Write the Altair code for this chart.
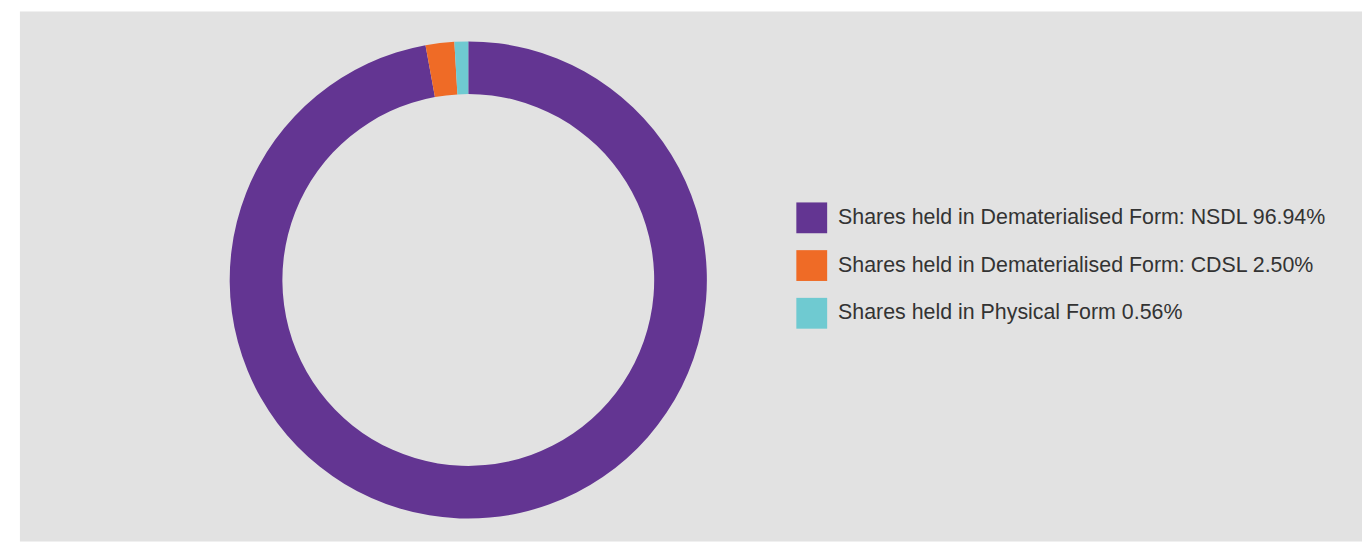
import altair as alt
import pandas as pd

categories = [
    "Shares held in Dematerialised Form: NSDL 96.94%",
    "Shares held in Dematerialised Form: CDSL 2.50%",
    "Shares held in Physical Form 0.56%",
]
# slice sizes as drawn in the picture (percent of the ring)
values = [97.13, 1.94, 0.93]
order = [0, 1, 2]
colors = ["#633592", "#ef6b26", "#6fcad1"]

df = pd.DataFrame({"category": categories, "value": values, "order": order})

chart = (
    alt.Chart(df)
    .mark_arc(radius=240, innerRadius=187)
    .encode(
        theta=alt.Theta("value:Q", stack=True),
        order=alt.Order("order:Q"),
        x=alt.value(451),
        y=alt.value(270),
        color=alt.Color(
            "category:N",
            sort=categories,
            scale=alt.Scale(domain=categories, range=colors),
            legend=alt.Legend(
                title=None,
                orient="none",
                legendX=781,
                legendY=192,
                symbolType="square",
                symbolSize=961,
                symbolStrokeWidth=0,
                symbolOpacity=1,
                labelFontSize=21.5,
                labelFont="Liberation Sans",
                labelColor="#333333",
                labelOffset=11,
                labelLimit=0,
                rowPadding=17,
                padding=0,
            ),
        ),
    )
    .properties(
        width=1350,
        height=533,
        padding={"left": 12, "top": 2, "right": 0, "bottom": 0},
        autosize=alt.AutoSizeParams(type="none"),
        background="white",
    )
    .configure_view(fill="#e2e2e2", stroke=None)
)

chart.save("out.html", embed_options={"renderer": "svg", "actions": False})
